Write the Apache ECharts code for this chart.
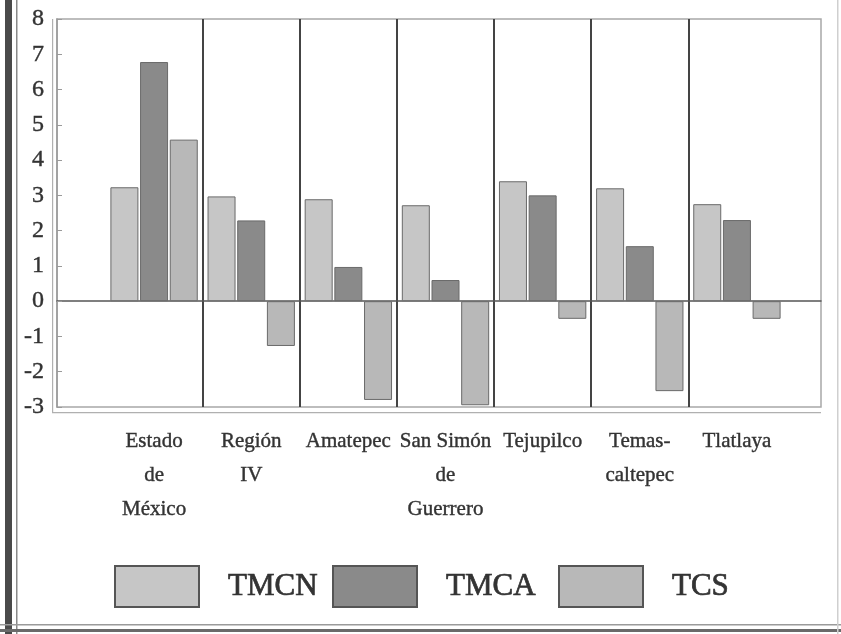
<!DOCTYPE html>
<html>
<head>
<meta charset="utf-8">
<script src="https://cdn.jsdelivr.net/npm/echarts@6/dist/echarts.min.js"></script>
<style>html,body{margin:0;padding:0;background:#fff;}#chart{width:841px;height:634px;}</style>
</head>
<body>
<div id="chart"></div>
<script>
const categories = ['Estado\nde\nMéxico', 'Región\nIV', 'Amatepec', 'San Simón\nde\nGuerrero', 'Tejupilco', 'Temas-\ncaltepec', 'Tlatlaya'];
const seriesNames = ['TMCN', 'TMCA', 'TCS'];
const tmcn = [3.23, 2.97, 2.89, 2.72, 3.40, 3.20, 2.75];
const tmca = [6.78, 2.29, 0.97, 0.60, 3.00, 1.56, 2.30];
const tcs = [4.58, -1.27, -2.80, -2.95, -0.50, -2.55, -0.50];
const yMin = -3, yMax = 8, yInterval = 1;

const colors = ['#c6c6c6', '#8a8a8a', '#b8b8b8'];
const font = 'Liberation Serif';
const textColor = '#333333';

const chart = echarts.init(document.getElementById('chart'));
const legendLefts = [114, 332, 558];
const option = {
  animation: false,
  backgroundColor: '#ffffff',
  grid: [
    { left: 57, right: 20, top: 19, bottom: 227, show: true, borderColor: '#a8a8a8', borderWidth: 1.5, backgroundColor: 'transparent' },
    { left: 105.5, right: 55.5, top: 19, bottom: 227 }
  ],
  xAxis: [
    { gridIndex: 0, type: 'value', min: 0, max: 1, axisLabel: { show: false }, axisTick: { show: false }, splitLine: { show: false },
      axisLine: { show: true, onZero: true, lineStyle: { color: '#555', width: 1.5 } } },
    { gridIndex: 1, type: 'category', data: categories, axisLine: { show: false }, axisTick: { show: false },
      axisLabel: { interval: 0, margin: 17, fontFamily: font, fontSize: 21, lineHeight: 34, color: textColor, verticalAlign: 'top',
        textBorderColor: textColor, textBorderWidth: 0.4 },
      splitLine: { show: true, showMinLine: false, showMaxLine: false, lineStyle: { color: '#444', width: 2 } } }
  ],
  yAxis: [
    { gridIndex: 0, type: 'value', min: yMin, max: yMax, interval: yInterval,
      axisLine: { show: true, lineStyle: { color: '#9a9a9a', width: 1.5 } },
      axisTick: { show: true, inside: true, length: 5, lineStyle: { color: '#9a9a9a' } },
      axisLabel: { margin: 13, fontFamily: font, fontSize: 24, color: textColor, padding: [8, 0, 0, 0],
        textBorderColor: textColor, textBorderWidth: 0.4 },
      splitLine: { show: false } },
    { gridIndex: 1, type: 'value', min: yMin, max: yMax, interval: yInterval, show: false, splitLine: { show: false } }
  ],
  legend: seriesNames.map((n, i) => ({
    data: [n], left: legendLefts[i], top: 565, itemWidth: 84, itemHeight: 41, padding: 0,
    icon: 'rect', itemStyle: { borderColor: '#555', borderWidth: 2 },
    textStyle: { fontFamily: font, fontSize: 31, color: textColor, padding: [0, 0, 0, 24],
      textBorderColor: textColor, textBorderWidth: 0.7 }
  })),
  series: [tmcn, tmca, tcs].map((d, i) => ({
    name: seriesNames[i], type: 'bar', xAxisIndex: 1, yAxisIndex: 1, data: d,
    barWidth: 28, barGap: '6%',
    itemStyle: { color: colors[i], borderColor: '#6a6a6a', borderWidth: 1 }
  })),
  graphic: [
    { type: 'rect', shape: { x: 5, y: 0, width: 7, height: 634 }, style: { fill: '#4a4a4a' }, silent: true },
    { type: 'rect', shape: { x: 16, y: 0, width: 1.5, height: 634 }, style: { fill: '#8a8a8a' }, silent: true },
    { type: 'rect', shape: { x: 52, y: 19, width: 1.2, height: 394 }, style: { fill: '#b0b0b0' }, silent: true },
    { type: 'rect', shape: { x: 52, y: 412, width: 769, height: 1.2 }, style: { fill: '#b0b0b0' }, silent: true },
    { type: 'rect', shape: { x: 0, y: 624, width: 841, height: 1.5 }, style: { fill: '#9a9a9a' }, silent: true },
    { type: 'rect', shape: { x: 0, y: 629, width: 841, height: 3 }, style: { fill: '#6a6a6a' }, silent: true },
    { type: 'rect', shape: { x: 837, y: 0, width: 1.5, height: 634 }, style: { fill: '#cfcfcf' }, silent: true }
  ]
};
chart.setOption(option);
</script>
</body>
</html>
